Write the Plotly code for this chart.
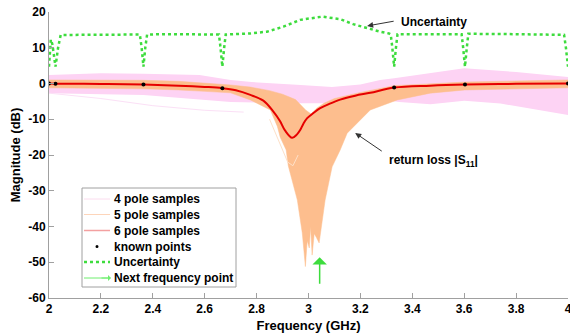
import plotly.graph_objects as go

# ---------------- data ----------------
known_f = [2.0, 2.025, 2.364, 2.668, 3.330, 3.603, 4.0]
known_db = [0.0, -0.05, -0.3, -1.3, -1.15, -0.3, 0.0]

# 6-pole samples (red, nearly coincident)
red_f = [2.0, 2.025, 2.2, 2.364, 2.5, 2.6, 2.668, 2.72, 2.776, 2.826, 2.864, 2.89,
         2.91, 2.937, 2.955, 2.968, 2.98, 2.995, 3.02, 3.045, 3.08, 3.122, 3.18,
         3.238, 3.33, 3.469, 3.603, 3.8, 4.0]
red_db = [0.0, -0.05, -0.12, -0.3, -0.6, -0.95, -1.3, -1.9, -3.2, -4.8, -7.8, -10.5,
          -13.2, -15.2, -14.3, -13.0, -11.3, -9.7, -8.2, -6.9, -5.7, -4.5, -3.4,
          -2.6, -1.15, -0.6, -0.3, -0.1, 0.0]

# 4-pole sample bundle (envelope)
pink_top_f = [2.0, 2.2, 2.364, 2.58, 2.7, 2.78, 2.97, 3.09, 3.2, 3.276, 3.33, 3.47, 3.6, 3.8, 4.0]
pink_top_db = [2.4, 2.9, 2.7, 2.4, 1.0, 0.4, -0.4, -1.0, -0.3, 1.0, 1.5, 2.9, 4.3, 3.2, 1.8]
pink_bot_f = [2.0, 2.364, 2.58, 2.7, 2.97, 3.09, 3.27, 3.35, 3.47, 3.6, 3.74, 3.87, 4.0]
pink_bot_db = [-2.7, -3.2, -4.5, -5.2, -5.5, -5.5, -4.5, -5.2, -5.8, -4.8, -5.6, -7.2, -8.8]
pink_out_f = [2.0, 2.2, 2.4, 2.6, 2.75]
pink_out_db = [-2.7, -4.2, -6.2, -7.5, -8.0]

# 5-pole sample bundle (envelope)
orange_top_f = [2.0, 2.2, 2.364, 2.5, 2.6, 2.699, 2.776, 2.85, 2.9, 2.95, 2.99, 3.01,
                3.03, 3.06, 3.1, 3.2, 3.33, 3.469, 3.603, 3.8, 4.0]
orange_top_db = [1.0, 1.0, 0.9, 0.6, 0.2, -0.4, -1.0, -2.0, -3.0, -4.5, -7.5, -8.5,
                 -7.0, -5.5, -4.2, -2.5, -0.6, 0.0, 0.4, 0.7, 1.0]
orange_bot_f = [2.0, 2.2, 2.364, 2.5, 2.6, 2.699, 2.776, 2.853, 2.88, 2.891, 2.914,
                2.922, 2.957, 2.976, 2.988, 2.995, 3.003, 3.008, 3.014, 3.022, 3.03,
                3.041, 3.045, 3.064, 3.091, 3.122, 3.149, 3.172, 3.199, 3.238, 3.342,
                3.469, 3.603, 3.8, 4.0]
orange_bot_db = [-1.2, -1.3, -1.5, -1.8, -2.2, -2.6, -4.6, -7.4, -12.0, -15.0, -18.6,
                 -23.0, -32.6, -41.8, -51.2, -44.0, -46.0, -40.0, -48.0, -42.0, -43.0,
                 -44.6, -41.8, -32.6, -23.3, -18.6, -13.9, -12.2, -10.2, -7.4, -4.6,
                 -2.7, -1.8, -1.4, -1.2]
orange_out_f = [2.85, 2.89, 2.92, 2.94, 2.96]
orange_out_db = [-10.0, -17.0, -22.0, -23.0, -20.0]

# Uncertainty
unc_f = [2.0, 2.007, 2.013, 2.025, 2.035, 2.045, 2.1, 2.2, 2.3, 2.35, 2.357, 2.364,
         2.371, 2.378, 2.45, 2.6, 2.655, 2.661, 2.668, 2.675, 2.681, 2.776, 2.84,
         2.903, 2.968, 3.053, 3.122, 3.172, 3.226, 3.276, 3.31, 3.317, 3.323, 3.33,
         3.337, 3.343, 3.45, 3.59, 3.596, 3.603, 3.61, 3.616, 3.8, 3.985, 3.992, 4.0]
unc_db = [4.7, 12.3, 11.0, 4.7, 10.0, 13.6, 13.6, 13.7, 13.8, 13.7, 10.0, 4.7,
          10.0, 13.7, 13.8, 13.8, 13.7, 10.0, 4.7, 10.0, 13.7, 14.0, 14.5,
          15.9, 17.8, 18.7, 18.0, 16.6, 15.4, 14.5, 14.0, 13.7, 10.0, 4.7,
          10.0, 13.8, 13.8, 13.8, 10.0, 4.7, 10.0, 13.9, 13.8, 13.6, 10.0, 4.7]

next_f = 3.043
next_tail_db, next_tip_db = -56.4, -48.6

xticks = [2, 2.2, 2.4, 2.6, 2.8, 3, 3.2, 3.4, 3.6, 3.8, 4]
yticks = [20, 10, 0, -10, -20, -30, -40, -50, -60]

legend_labels = ["4 pole samples", "5 pole samples", "6 pole samples",
                 "known points", "Uncertainty", "Next frequency point"]

# ---------------- styles ----------------
PINK = "#fdd3f4"
ORANGE = "#fdbe8e"
RED = "#e60000"
GREEN = "#3ddc3d"
AX = "#a0a0a0"
FONT = "Liberation Sans, Arial, sans-serif"

W, H = 570, 336
ML, MR, MT, MB = 49, 2, 12, 38

fig = go.Figure()

# 4-pole bundle
fig.add_trace(go.Scatter(x=pink_top_f + pink_bot_f[::-1], y=pink_top_db + pink_bot_db[::-1],
                         fill="toself", fillcolor=PINK, line=dict(width=0, color=PINK),
                         mode="lines", showlegend=False, hoverinfo="skip"))
fig.add_trace(go.Scatter(x=pink_out_f, y=pink_out_db, mode="lines",
                         line=dict(color="#fbe0f6", width=1), showlegend=False))
# 5-pole bundle
fig.add_trace(go.Scatter(x=orange_top_f + orange_bot_f[::-1], y=orange_top_db + orange_bot_db[::-1],
                         fill="toself", fillcolor=ORANGE, line=dict(width=0.5, color=ORANGE),
                         mode="lines", showlegend=False, hoverinfo="skip"))
fig.add_trace(go.Scatter(x=orange_out_f, y=orange_out_db, mode="lines",
                         line=dict(color="#fde0c8", width=1), showlegend=False))
# 6-pole
fig.add_trace(go.Scatter(x=red_f, y=red_db, mode="lines", line=dict(color=RED, width=2, shape="spline"),
                         showlegend=False))
# uncertainty
fig.add_trace(go.Scatter(x=unc_f, y=unc_db, mode="lines", line=dict(color=GREEN, width=2.5, dash="dot"),
                         showlegend=False))
# known points
fig.add_trace(go.Scatter(x=known_f, y=known_db, mode="markers",
                         marker=dict(color="black", size=4), showlegend=False))

ann = []
shapes = []
# Uncertainty label + arrow
ann.append(dict(x=3.226, y=16.1, ax=3.334, ay=17.5, axref="x", ayref="y", xref="x", yref="y",
                text="", showarrow=True, arrowhead=2, arrowsize=1.2, arrowwidth=1, arrowcolor="#333"))
ann.append(dict(x=3.349, y=17.2, xref="x", yref="y", text="<b>Uncertainty</b>", showarrow=False,
                xanchor="left", yanchor="middle", font=dict(size=12, color="black", family=FONT)))
# return loss label + arrow
ann.append(dict(x=3.180, y=-13.85, ax=3.288, ay=-19.2, axref="x", ayref="y", xref="x", yref="y",
                text="", showarrow=True, arrowhead=2, arrowsize=1.2, arrowwidth=1, arrowcolor="#333"))
ann.append(dict(x=3.303, y=-21.6, xref="x", yref="y", text="<b>return loss |S<sub>11</sub>|</b>",
                showarrow=False, xanchor="left", yanchor="middle",
                font=dict(size=12, color="black", family=FONT)))
# next frequency point arrow
ann.append(dict(x=next_f, y=next_tip_db, ax=next_f, ay=next_tail_db, axref="x", ayref="y",
                xref="x", yref="y", text="", showarrow=True, arrowhead=1, arrowsize=1.6,
                arrowwidth=1.5, arrowcolor=GREEN))

# ---------------- legend box (drawn in pixel terms of the plot area) ----------------
PW = W - ML - MR
PH = H - MT - MB


def px_x(p):  # page pixel -> paper x
    return (p - ML) / PW


def px_y(p):  # page pixel -> paper y
    return 1 - (p - MT) / PH


shapes.append(dict(type="rect", xref="paper", yref="paper",
                   x0=px_x(82), x1=px_x(236), y0=px_y(287), y1=px_y(188),
                   line=dict(color=AX, width=1), fillcolor="white", layer="above"))
rows = [199, 214.5, 230.5, 246.5, 262, 278]
leg_styles = [dict(color="#fbdcee", width=1), dict(color="#fdd5ba", width=1),
              dict(color="#f3a0a0", width=1.5), None,
              dict(color=GREEN, width=2.5, dash="dot"), dict(color="#6fee6f", width=1)]
for lab, ry, st in zip(legend_labels, rows, leg_styles):
    if st is None:
        shapes.append(dict(type="circle", xref="paper", yref="paper",
                           x0=px_x(95.5), x1=px_x(98.5), y0=px_y(ry + 1.5), y1=px_y(ry - 1.5),
                           fillcolor="black", line=dict(color="black", width=0), layer="above"))
    else:
        shapes.append(dict(type="line", xref="paper", yref="paper",
                           x0=px_x(84), x1=px_x(110), y0=px_y(ry), y1=px_y(ry),
                           line=st, layer="above"))
    ann.append(dict(x=px_x(112), y=px_y(ry), xref="paper", yref="paper", text=f"<b>{lab}</b>",
                    showarrow=False, xanchor="left", yanchor="middle",
                    font=dict(size=12, color="black", family=FONT)))
# arrow head on the last legend sample
ann.append(dict(x=px_x(111), y=px_y(278), ax=-11, ay=0, axref="pixel", ayref="pixel",
                xref="paper", yref="paper", text="", showarrow=True, arrowhead=1, arrowsize=1,
                arrowwidth=1, arrowcolor="#6fee6f"))

fig.update_layout(
    width=W, height=H,
    margin=dict(l=ML, r=MR, t=MT, b=MB, autoexpand=False),
    paper_bgcolor="white", plot_bgcolor="white",
    font=dict(family=FONT, size=12, color="black"),
    annotations=ann, shapes=shapes,
    showlegend=False,
)
fig.update_xaxes(range=[2, 4], tickvals=xticks, ticktext=[f"{v:g}" for v in xticks],
                 showline=True, linecolor=AX, linewidth=1, ticks="inside", ticklen=5,
                 tickcolor=AX, showgrid=False, zeroline=False, mirror=False, automargin=False,
                 ticklabeloverflow="allow",
                 tickfont=dict(size=12, family=FONT, weight="bold"),
                 title=dict(text="Frequency (GHz)", standoff=5,
                            font=dict(size=13, family=FONT, weight="bold")))
fig.update_yaxes(range=[-60, 20], tickvals=yticks, ticktext=[f"{v:g}" for v in yticks],
                 showline=True, linecolor=AX, linewidth=1, ticks="inside", ticklen=5,
                 tickcolor=AX, showgrid=False, zeroline=False, mirror=False, automargin=False,
                 ticklabeloverflow="allow",
                 tickfont=dict(size=12, family=FONT, weight="bold"),
                 title=dict(text="Magnitude (dB)", standoff=4,
                            font=dict(size=13, family=FONT, weight="bold")))

# remove the page's default body margin so the 570x336 figure fills the window exactly
fig.write_html("out.html", config={"displayModeBar": False},
               post_script="document.body.style.margin='0px';")
